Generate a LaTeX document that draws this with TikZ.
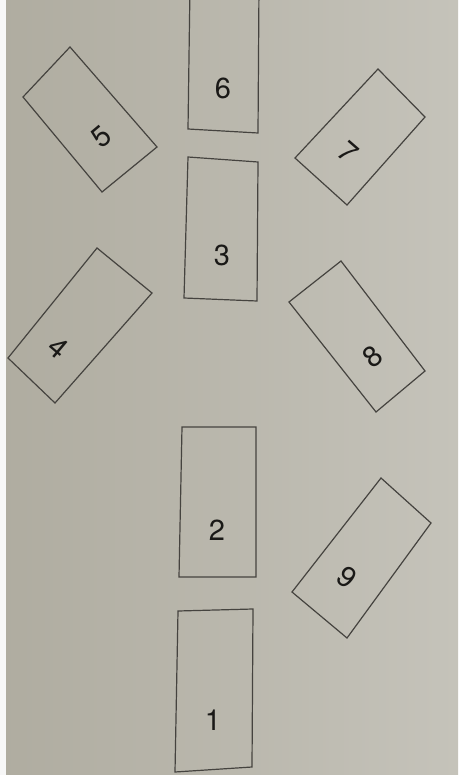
\documentclass[tikz,border=0pt]{standalone}
\usepackage{fontspec}
\setmainfont{TeX Gyre Heros}
\definecolor{paperL}{HTML}{AFACA0}
\definecolor{paperR}{HTML}{C5C3BA}
\definecolor{ink}{HTML}{45433F}
\definecolor{numink}{HTML}{1A1917}
\tikzset{
  cardedge/.style={draw=ink, line width=1.2pt, line join=miter},
  num/.style={text=numink, font=\fontsize{29}{29}\selectfont, inner sep=0pt}
}
\begin{document}
\begin{tikzpicture}[x=1pt,y=-1pt]
\useasboundingbox (0,0) rectangle (458,775);
\clip (0,0) rectangle (458,775);
\shade[left color=paperL, right color=paperR] (0,0) rectangle (458,775);
\fill[white!94!gray] (0,0) rectangle (6,775);
% card 6
\draw[cardedge] (190,-15) -- (188,129) -- (258,133) -- (259,-15);
\node[num] (n6) at (223,88) {6};
% card 3
\draw[cardedge] (188,157) -- (258,162) -- (257,301) -- (184,298) -- cycle;
\node[num] (n3) at (222,255) {3};
% card 2
\draw[cardedge] (182,427) -- (256,427) -- (256,577) -- (179,577) -- cycle;
\node[num] (n2) at (217,530) {2};
% card 1
\draw[cardedge] (178,611) -- (253,609) -- (252,767) -- (175,772) -- cycle;
\node[num] (n1) at (213,720) {1};
% card 5
\draw[cardedge] (70,47) -- (157,147) -- (102,192) -- (23,97) -- cycle;
\node[num, rotate=40] (n5) at (101,137) {5};
% card 7
\draw[cardedge] (378,69) -- (425,117) -- (347,205) -- (295,158) -- cycle;
\node[num, rotate=-41] (n7) at (348,152) {7};
% card 4
\draw[cardedge] (97,248) -- (152,293) -- (55,403) -- (8,358) -- cycle;
\node[num, rotate=-40] (n4) at (58,348) {4};
% card 8
\draw[cardedge] (341,261) -- (425,371) -- (376,412) -- (289,302) -- cycle;
\node[num, rotate=38] (n8) at (373,357) {8};
% card 9
\draw[cardedge] (381,478) -- (431,523) -- (347,638) -- (292,592) -- cycle;
\node[num, rotate=-37] (n9) at (347,577) {9};
\end{tikzpicture}
\end{document}
